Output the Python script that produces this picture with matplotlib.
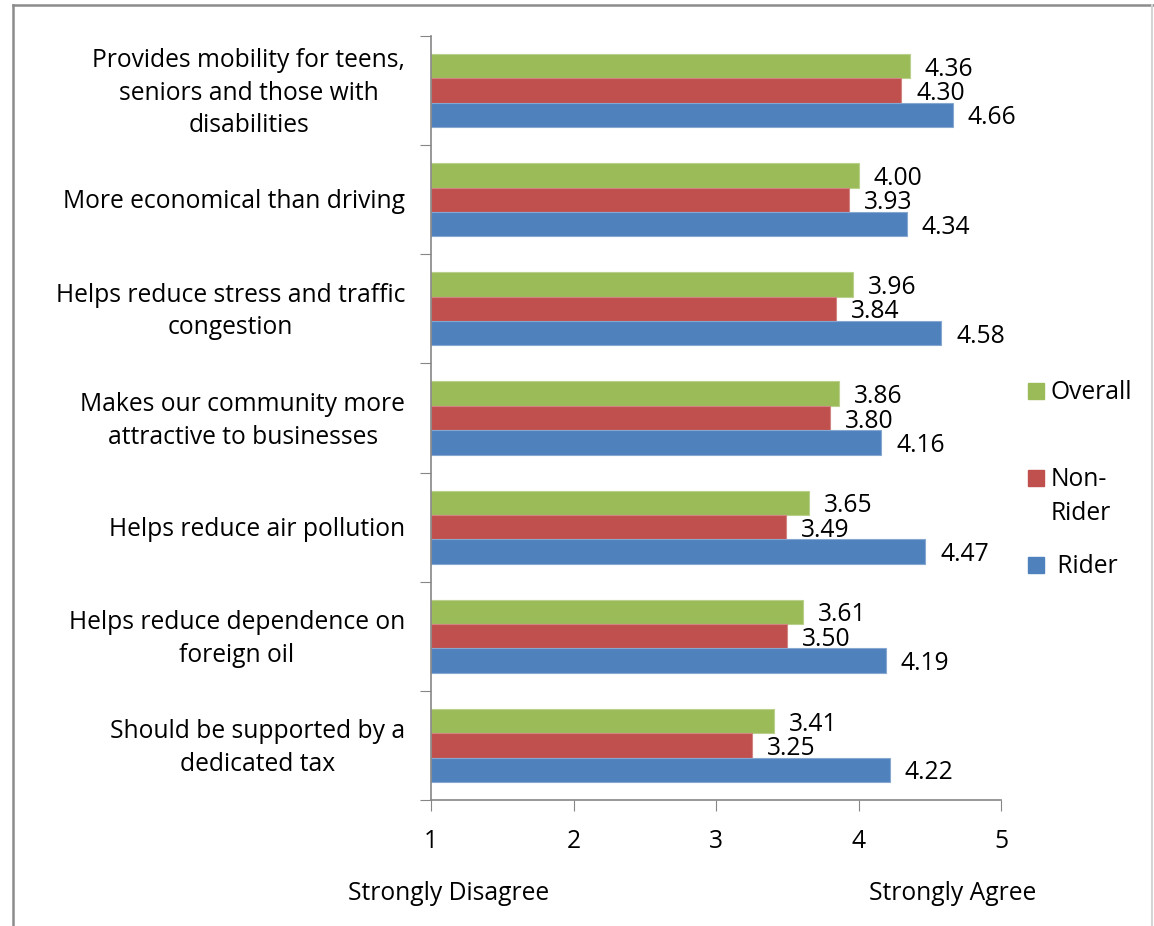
import matplotlib.pyplot as plt
import matplotlib.transforms as mtransforms
import numpy as np
from matplotlib.lines import Line2D
from matplotlib.patches import Rectangle

plt.rcParams['font.family'] = ['Open Sans', 'DejaVu Sans']

categories = [
    "Provides mobility for teens,\nseniors and those with\ndisabilities",
    "More economical than driving",
    "Helps reduce stress and traffic\ncongestion",
    "Makes our community more\nattractive to businesses",
    "Helps reduce air pollution",
    "Helps reduce dependence on\nforeign oil",
    "Should be supported by a\ndedicated tax",
]
overall = [4.36, 4.00, 3.96, 3.86, 3.65, 3.61, 3.41]
non_rider = [4.30, 3.93, 3.84, 3.80, 3.49, 3.50, 3.25]
rider = [4.66, 4.34, 4.58, 4.16, 4.47, 4.19, 4.22]

series = [
    ("Overall", overall, "#9BBB59", "#b9d08a"),
    ("Non-\nRider", non_rider, "#C0504D", "#d28482"),
    (" Rider", rider, "#4F81BD", "#86a7d0"),
]

FS = 17.7
W, H = 1154, 926
fig = plt.figure(figsize=(W / 100, H / 100), dpi=100)
ax = fig.add_axes([431 / W, 1 - 800 / H, 570 / W, 764 / H])

y = np.arange(len(categories))
bh = 0.223
for i, (name, vals, col, edge) in enumerate(series):
    pos = y + (i - 1) * bh
    vals = np.array(vals)
    ax.barh(pos, vals - 1, left=1, height=bh, color=col, edgecolor=edge, linewidth=0.8)
    for p, v in zip(pos, vals):
        ax.annotate(f"{v:.2f}", (v, p), xytext=(15, -3), textcoords="offset pixels",
                    va="center", ha="left", fontsize=FS)

ax.set_xlim(1, 5)
ax.set_ylim(len(categories) - 0.5, -0.5)
ax.set_xticks([1, 2, 3, 4, 5])

# category boundaries get the tick marks, centres get the labels
ax.set_yticks(np.arange(-0.5, len(categories), 1.0))
ax.set_yticklabels([])
ax.set_yticks(y, minor=True)
ax.set_yticklabels(categories, minor=True, fontsize=FS, multialignment="center",
                   linespacing=1.4)
ax.tick_params(axis="y", which="major", direction="out", length=8, color="#868686")
ax.tick_params(axis="y", which="minor", length=0, pad=18.7)
ax.tick_params(axis="x", direction="out", length=8, color="#868686", labelsize=FS, pad=13)

# nudge wrapped labels up a little so the middle line sits on the group centre
for lab in ax.get_yticklabels(minor=True):
    up = 4 if "\n" in lab.get_text() else 1
    lab.set_transform(lab.get_transform()
                      + mtransforms.ScaledTranslation(0, up / 100, fig.dpi_scale_trans))

for s in ["top", "right"]:
    ax.spines[s].set_visible(False)
for s in ["left", "bottom"]:
    ax.spines[s].set_color("#868686")
    ax.spines[s].set_linewidth(1.2)

fig.text(449 / W, 1 - 893 / H, "Strongly Disagree", ha="center", va="center", fontsize=FS)
fig.text(953 / W, 1 - 893 / H, "Strongly Agree", ha="center", va="center", fontsize=FS)

# legend drawn by hand
leg_y = [391, 478, 565]
for (name, vals, col, edge), yy in zip(series, leg_y):
    fig.add_artist(Rectangle((1028 / W, 1 - (yy + 8) / H), 16 / W, 16 / H,
                             transform=fig.transFigure, color=col))
    fig.text(1051 / W, 1 - (yy - 11) / H, name, ha="left", va="top", fontsize=FS,
             linespacing=1.45)

# outer frame
fig.add_artist(Line2D([12.5 / W, 12.5 / W], [0, 1 - 5 / H], transform=fig.transFigure,
                      color="#8c8c8c", lw=1.8))
fig.add_artist(Line2D([12.5 / W, 1], [1 - 5 / H, 1 - 5 / H], transform=fig.transFigure,
                      color="#8c8c8c", lw=1.8))
fig.add_artist(Line2D([1152 / W, 1152 / W], [0, 1 - 5 / H], transform=fig.transFigure,
                      color="#d4d4d4", lw=1.5))

fig.savefig("out.png", dpi=100)
